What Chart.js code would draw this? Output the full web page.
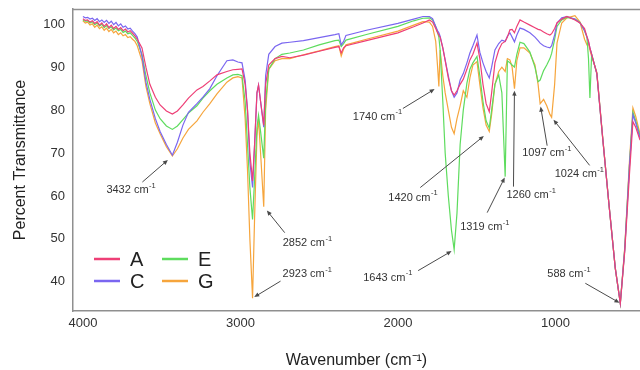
<!DOCTYPE html>
<html>
<head>
<meta charset="utf-8">
<script src="https://cdn.jsdelivr.net/npm/chart.js@4.4.1/dist/chart.umd.min.js"></script>
<style>
  html, body { margin: 0; padding: 0; background: #ffffff; }
  #wrap { width: 640px; height: 370px; }
</style>
</head>
<body>
<div id="wrap"><canvas id="ftir" width="640" height="370"></canvas></div>
<script>
// FTIR spectra of samples A, C, E and G (percent transmittance vs wavenumber)
const seriesNames = ['A', 'C', 'E', 'G'];

const wavenumbers = [
  // 4000-3655 (noisy plateau)
  4000, 3985, 3970, 3955, 3940, 3925, 3910, 3895, 3880, 3865, 3850, 3835,
  3820, 3805, 3790, 3775, 3760, 3745, 3730, 3715, 3700, 3685, 3670, 3655,
  // O-H band
  3625, 3600, 3575, 3540, 3510, 3470, 3432, 3400, 3365, 3330, 3276, 3238,
  3194, 3149, 3086, 3048, 3016, 2990,
  // C-H stretches
  2970, 2955, 2940, 2923, 2910, 2895, 2885, 2872, 2852, 2840, 2820, 2780,
  2737, 2686,
  // 2600-1800
  2600, 2500, 2400, 2375, 2360, 2345, 2330, 2200, 2000, 1900, 1841, 1800,
  // 1780-1498
  1780, 1760, 1748, 1740, 1732, 1715, 1700, 1680, 1660, 1643, 1625, 1605,
  1585, 1562, 1543, 1524, 1498,
  // 1480-1225
  1480, 1460, 1440, 1420, 1405, 1384, 1360, 1340, 1319, 1305, 1289, 1275,
  1260, 1245, 1225,
  // 1200-770
  1200, 1162, 1130, 1110, 1097, 1075, 1055, 1035, 1024, 1005, 990, 960,
  927, 876, 844, 815, 800, 790, 781, 770,
  // 737-463
  737, 700, 660, 620, 588, 560, 530, 508, 490, 463
];

const transA = [
  101.3, 100.9, 101.0, 100.5, 100.8, 100.2, 100.6, 99.8, 100.3, 99.5, 100.1, 99.2,
  99.8, 99.0, 99.5, 98.8, 99.2, 98.5, 98.9, 98.2, 98.5, 97.9, 97.3, 96.5,
  94.5, 90.0, 86.0, 83.0, 81.2, 79.8, 79.1, 79.8, 81.2, 82.8, 84.7, 85.5,
  86.8, 88.2, 89.0, 89.4, 89.5, 89.6,
  86.0, 80.0, 70.0, 63.5, 72.0, 84.0, 85.8, 82.0, 76.5, 86.0, 90.5, 92.0,
  92.5, 92.2,
  92.8, 93.7, 94.6, 94.8, 93.3, 94.5, 95.0, 96.2, 98.0, 99.4, 100.3, 101.0,
  100.5, 99.0, 98.0, 97.5, 97.0, 94.5, 91.5, 87.5, 84.5, 83.5, 84.5, 86.0,
  87.2, 89.5, 91.7, 93.0, 95.6,
  92.0, 86.0, 81.5, 79.6, 84.0, 91.0, 94.0, 95.5, 96.0, 97.0, 98.7, 98.8,
  98.0, 99.5, 101.0,
  100.5, 99.8, 99.2, 98.8, 98.7, 98.2, 97.8, 97.5, 97.8, 99.0, 100.3, 101.2,
  101.8, 101.0, 100.3, 99.0, 97.1, 96.0, 94.5, 93.0,
  88.5, 73.5, 58.0, 43.2, 35.0, 47.0, 65.0, 77.3, 76.0, 73.0
];

const transC = [
  101.8, 101.5, 101.6, 101.2, 101.4, 100.9, 101.3, 100.6, 101.0, 100.4, 100.9, 100.2,
  100.7, 99.9, 100.4, 99.6, 100.1, 99.3, 99.6, 98.9, 99.1, 98.4, 97.8, 97.0,
  92.5, 86.5, 82.5, 78.0, 75.0, 72.0, 69.5, 72.5, 76.5, 79.5, 81.5, 83.0,
  85.0, 88.0, 91.5, 91.7, 91.2, 91.0,
  87.0, 80.0, 68.0, 62.0, 72.0, 84.0, 85.8, 82.0, 76.0, 88.0, 93.0, 94.8,
  95.6, 95.8,
  96.2, 96.9, 97.6, 97.8, 95.2, 96.0, 97.4, 98.6, 100.2, 101.2, 101.8, 101.8,
  101.3, 99.5, 98.5, 98.0, 97.2, 94.5, 91.7, 88.0, 84.5, 83.0, 84.0, 87.0,
  88.5, 91.0, 93.3, 95.0, 97.5,
  93.5, 91.0, 89.0, 87.5, 90.0, 94.0, 95.5, 96.3, 96.0, 97.2, 98.0, 97.0,
  95.9, 97.5, 99.1,
  98.8, 98.0, 97.0, 96.2, 95.6, 95.0, 94.7, 94.5, 95.0, 97.5, 100.3, 101.5,
  101.8, 101.2, 100.3, 98.5, 97.1, 96.0, 94.5, 93.0,
  88.5, 73.5, 58.0, 43.2, 35.0, 47.5, 67.0, 78.9, 77.0, 73.5
];

const transE = [
  101.0, 100.7, 100.8, 100.3, 100.6, 99.9, 100.3, 99.6, 100.0, 99.2, 99.7, 99.0,
  99.4, 98.7, 99.1, 98.5, 98.8, 98.1, 98.4, 97.8, 98.0, 97.4, 96.8, 96.0,
  93.0, 88.0, 84.0, 80.0, 78.0, 76.3, 75.5, 76.3, 77.8, 79.3, 81.0, 82.8,
  84.5, 86.0, 87.5, 88.2, 88.3, 88.0,
  82.0, 72.0, 62.0, 54.5, 64.0, 76.0, 78.8, 75.0, 68.8, 82.0, 89.5, 92.0,
  93.0, 93.3,
  94.0, 95.2, 96.2, 96.3, 94.8, 95.5, 96.3, 97.6, 99.5, 100.8, 101.4, 101.5,
  101.0, 99.5, 98.0, 97.0, 94.0, 82.0, 70.0, 60.0, 52.0, 47.5, 56.0, 72.0,
  80.0, 86.3, 89.5, 91.0, 92.5,
  88.0, 82.0, 77.5, 75.8, 80.0, 86.0, 88.2, 84.0, 64.5, 91.5, 91.0, 90.5,
  90.0, 93.0, 95.8,
  95.5, 93.5, 90.0, 86.6, 87.0, 89.2, 90.5, 92.0, 93.2, 96.5, 99.5, 101.0,
  101.6, 101.2, 100.4, 98.5, 97.0, 92.0, 82.8, 93.0,
  88.5, 73.5, 58.0, 43.2, 35.0, 47.5, 67.0, 79.5, 77.5, 74.0
];

const transG = [
  100.8, 100.3, 100.5, 99.8, 100.1, 99.3, 99.8, 99.0, 99.4, 98.6, 99.1, 98.3,
  98.8, 98.0, 98.4, 97.6, 98.0, 97.3, 97.6, 96.9, 97.1, 96.5, 96.0, 95.0,
  91.5, 85.5, 81.5, 77.0, 74.5, 71.5, 69.3, 71.0, 73.5, 75.5, 77.5, 79.5,
  81.5, 83.8, 86.5, 87.5, 87.8, 87.5,
  78.0, 66.0, 50.0, 36.2, 55.0, 74.0, 78.0, 70.0, 57.5, 80.0, 89.5, 91.5,
  92.0, 92.0,
  92.9, 93.8, 94.8, 95.0, 92.6, 94.2, 95.2, 96.5, 98.4, 99.8, 100.6, 100.5,
  99.5, 96.0, 90.0, 85.5, 94.0, 88.0, 84.0, 80.0, 76.0, 74.5, 78.0, 81.0,
  84.5, 83.0, 87.5, 90.5, 91.3,
  86.0, 80.5, 76.5, 75.0, 79.0, 86.0, 89.0, 90.0, 89.0, 92.0, 91.7, 90.0,
  85.0, 91.5, 94.5,
  94.5, 93.3, 90.5, 86.0, 81.5, 82.5, 81.0, 79.0, 78.3, 86.0, 95.6, 100.3,
  101.5, 102.0, 100.5, 96.5, 95.2, 95.5, 94.0, 92.5,
  88.8, 73.8, 58.0, 43.2, 35.0, 48.0, 68.0, 80.5, 78.5, 74.5
];

const xTickValues = [4000, 3000, 2000, 1000];
const yTickValues = [40, 50, 60, 70, 80, 90, 100];

// Labelled absorption bands and the spectrum each arrow points to
const peakWavenumbers = [3432, 2923, 2852, 1740, 1643, 1420, 1319, 1260, 1097, 1024, 588];
const peakSeries      = ['G', 'G', 'G', 'G', 'E', 'G', 'E', 'G', 'G', 'G', 'A'];

// ---- styling / layout ----
const seriesColors = { A: '#ee3f76', C: '#7a66f0', E: '#5edc5e', G: '#f6a53c' };
const seriesData = { A: transA, C: transC, E: transE, G: transG };
const FONT = '"Liberation Sans", Arial, Helvetica, sans-serif';
const INK = '#333333';
const AXIS_GREY = '#8f8f8f';

// Pixel offsets (from the labelled point) for arrow tail and label text
const noteLayout = {
  3432: { gap: 6, tail: [-30, 26], text: [-66, 34] },
  2923: { gap: 2, tail: [28, -17], text: [30, -24] },
  2852: { gap: 5, tail: [21, 26],  text: [19, 36] },
  1740: { gap: 5, tail: [-36, 22], text: [-86, 30] },
  1643: { gap: 3, tail: [-36, 21], text: [-91, 28] },
  1420: { gap: 7, tail: [-69, 56], text: [-101, 66] },
  1319: { gap: 1, tail: [-18, 36], text: [-45, 50] },
  1260: { gap: 2, tail: [-1, 98],  text: [-8, 106] },
  1097: { gap: 3, tail: [7, 42],   text: [-18, 49] },
  1024: { gap: 3, tail: [38, 48],  text: [3, 57] },
  588:  { gap: 1, tail: [-35, -20], text: [-73, -29] }
};

function drawWavenumberLabel(ctx, x, y, value, size, supSize) {
  ctx.textAlign = 'left';
  ctx.textBaseline = 'middle';
  ctx.font = size + 'px ' + FONT;
  const main = value + ' cm';
  ctx.fillText(main, x, y);
  const w = ctx.measureText(main).width;
  ctx.font = supSize + 'px ' + FONT;
  ctx.fillText('-1', x + w + 0.5, y - size * 0.38);
}

const framePlugin = {
  id: 'frameLine',
  beforeDatasetsDraw(chart) {
    const { ctx, chartArea } = chart;
    ctx.save();
    ctx.strokeStyle = AXIS_GREY;
    ctx.lineWidth = 1.5;
    ctx.beginPath();
    ctx.moveTo(chartArea.left, chartArea.top + 0.5);
    ctx.lineTo(chartArea.right, chartArea.top + 0.5);
    ctx.stroke();
    ctx.restore();
  }
};

const peakNotesPlugin = {
  id: 'peakNotes',
  afterDatasetsDraw(chart) {
    const { ctx } = chart;
    const xs = chart.scales.x, ys = chart.scales.y;
    ctx.save();
    peakWavenumbers.forEach((wn, i) => {
      const values = seriesData[peakSeries[i]];
      const idx = wavenumbers.indexOf(wn);
      const px = xs.getPixelForValue(wn);
      const py = ys.getPixelForValue(values[idx]);
      const lay = noteLayout[wn];
      const dx = lay.tail[0], dy = lay.tail[1];
      const len = Math.hypot(dx, dy);
      const ux = dx / len, uy = dy / len;
      const tipX = px + ux * lay.gap, tipY = py + uy * lay.gap;
      const tailX = px + dx, tailY = py + dy;
      ctx.strokeStyle = '#4a4a4a';
      ctx.fillStyle = '#4a4a4a';
      ctx.lineWidth = 1;
      ctx.beginPath();
      ctx.moveTo(tailX, tailY);
      ctx.lineTo(tipX + ux * 3, tipY + uy * 3);
      ctx.stroke();
      // arrow head
      const hl = 5, hw = 2.2;
      ctx.beginPath();
      ctx.moveTo(tipX, tipY);
      ctx.lineTo(tipX + ux * hl - uy * hw, tipY + uy * hl + ux * hw);
      ctx.lineTo(tipX + ux * hl + uy * hw, tipY + uy * hl - ux * hw);
      ctx.closePath();
      ctx.fill();
      ctx.fillStyle = INK;
      drawWavenumberLabel(ctx, px + lay.text[0], py + lay.text[1], wn, 11, 7.5);
    });
    ctx.restore();
  }
};

const legendPlugin = {
  id: 'insetLegend',
  afterDatasetsDraw(chart) {
    const { ctx } = chart;
    const cols = [[0, 'A', 'C'], [1, 'E', 'G']];
    const x0 = 94, colStep = 68, y0 = 259, rowStep = 22;
    ctx.save();
    ctx.font = '20px ' + FONT;
    ctx.textBaseline = 'middle';
    ctx.textAlign = 'left';
    cols.forEach(([c, top, bottom]) => {
      [top, bottom].forEach((name, r) => {
        const x = x0 + c * colStep, y = y0 + r * rowStep;
        ctx.strokeStyle = seriesColors[name];
        ctx.lineWidth = 2.5;
        ctx.beginPath();
        ctx.moveTo(x, y);
        ctx.lineTo(x + 26, y);
        ctx.stroke();
        ctx.fillStyle = '#222222';
        ctx.fillText(name, x + 36, y + 1);
      });
    });
    ctx.restore();
  }
};

const datasets = seriesNames.map(name => ({
  label: name,
  data: wavenumbers.map((w, i) => ({ x: w, y: seriesData[name][i] })),
  borderColor: seriesColors[name],
  backgroundColor: seriesColors[name],
  borderWidth: 1.2,
  pointRadius: 0,
  tension: 0,
  fill: false
}));

new Chart(document.getElementById('ftir'), {
  type: 'line',
  data: { datasets },
  options: {
    responsive: false,
    devicePixelRatio: 1,
    animation: false,
    parsing: true,
    layout: { padding: { top: 9, right: 0, bottom: 0, left: 0 } },
    plugins: {
      legend: { display: false },
      tooltip: { enabled: false }
    },
    scales: {
      x: {
        type: 'linear',
        reverse: true,
        min: 463,
        max: 4063,
        afterBuildTicks: s => { s.ticks = xTickValues.map(v => ({ value: v })); },
        afterFit: s => { s.height = 59; s.paddingLeft = 0; s.paddingRight = 0; },
        grid: { display: false, drawTicks: false },
        border: { display: true, color: AXIS_GREY, width: 1.5 },
        ticks: {
          color: INK, font: { size: 13, family: FONT }, padding: 5, maxRotation: 0,
          callback: v => String(v)
        },
        title: {
          display: true,
          text: 'Wavenumber (cm\u207B\u00B9)',
          color: '#222222',
          font: { size: 16, family: FONT },
          padding: { top: 0, bottom: 0 }
        }
      },
      y: {
        type: 'linear',
        min: 33.2,
        max: 103.55,
        afterBuildTicks: s => { s.ticks = yTickValues.map(v => ({ value: v })); },
        afterFit: s => { s.width = 73; s.paddingTop = 0; s.paddingBottom = 0; },
        grid: { display: false, drawTicks: false },
        border: { display: true, color: AXIS_GREY, width: 1.5 },
        ticks: { color: INK, font: { size: 13, family: FONT }, padding: 8, callback: v => String(v) },
        title: {
          display: true,
          text: 'Percent Transmittance',
          color: '#222222',
          font: { size: 16, family: FONT },
          padding: { top: 11, bottom: 0 }
        }
      }
    }
  },
  plugins: [framePlugin, peakNotesPlugin, legendPlugin]
});
</script>
</body>
</html>
